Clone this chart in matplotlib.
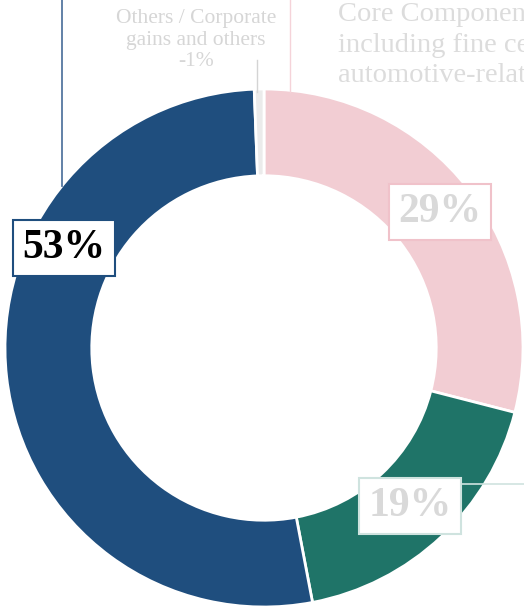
import numpy as np
import matplotlib
matplotlib.use("Agg")
import matplotlib.pyplot as plt

plt.rcParams['font.family'] = ['Liberation Serif', 'DejaVu Serif']

# segment shares as drawn (others is negative, drawn by its size)
segments = ["Core Components", "Electronic Components", "Solutions", "Others / Corporate"]
shares = [29.0, 18.0, 52.4, 0.6]
pct_labels = ["29%", "19%", "53%", "-1%"]
colors = ["#f2cdd3", "#1f7468", "#1f4e7e", "#ebebeb"]

W, H = 524, 609
fig = plt.figure(figsize=(W / 100, H / 100), dpi=100)
ax = fig.add_axes([0, 0, 1, 1])

cx, cy, R = 264, H - 348, 259
wedges, _ = ax.pie(shares, colors=colors, startangle=90, counterclock=False,
                   radius=R, center=(cx, cy),
                   wedgeprops=dict(width=R * 0.335, edgecolor="white", linewidth=2))

ax.set_xlim(0, W)
ax.set_ylim(0, H)
ax.set_aspect("auto")
ax.axis("off")

# leader lines
ax.plot([62, 62], [H, H - 186], color="#5577a0", lw=1.3)
ax.plot([257, 257], [H - 60, H - 92], color="#d4d4d4", lw=1.0)
ax.plot([290, 290], [H, H - 92], color="#f5d3d9", lw=1.0)
ax.plot([460, W], [H - 484, H - 484], color="#cfe3df", lw=1.2)

# outside labels (the long one runs off the right edge, as in the source)
ax.text(196, H - 40, "Others / Corporate\ngains and others\n" + pct_labels[3],
        ha="center", va="center", fontsize=15.5, color="#d6d6d6", linespacing=1.2)
ax.text(338, H - 45, "Core Components\nincluding fine ceramic components,\nautomotive-related components",
        ha="left", va="center", fontsize=20.5, color="#dcdcdc", linespacing=1.3)

# percentage boxes
boxes = [
    (440, 212, pct_labels[0], "#d9d9d9", "#f0c2ca"),
    (410, 506, pct_labels[1], "#d9d9d9", "#cfe3df"),
    (64, 248, pct_labels[2], "black", "#1f4e7e"),
]
for x, y, s, tc, ec in boxes:
    ax.text(x, H - y, s, ha="center", va="center", fontsize=30, fontweight="bold",
            color=tc, bbox=dict(boxstyle="square,pad=0.22", fc="white", ec=ec, lw=1.5))

fig.savefig("out.png", dpi=100)
